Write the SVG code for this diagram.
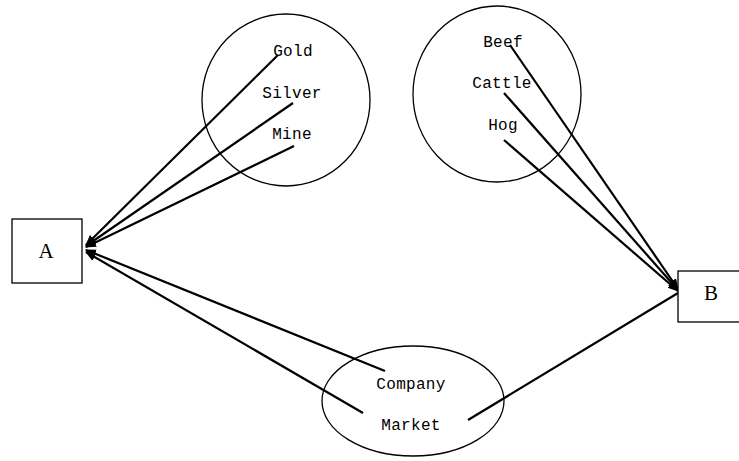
<svg xmlns="http://www.w3.org/2000/svg" width="739" height="461" viewBox="0 0 739 461">
<style>
.sh{fill:none;stroke:#000;stroke-width:1.3}
.box{fill:#fff;stroke:#000;stroke-width:1.3}
.ln{stroke:#000;stroke-width:2.2;fill:none}
.lb{font-family:"Liberation Mono",monospace;font-size:16px;letter-spacing:0.3px;text-anchor:middle;fill:#000}
.big{font-family:"Liberation Serif",serif;font-size:21px;text-anchor:middle;fill:#000}
</style>
<defs>
<marker id="ah" viewBox="0 0 10 10" refX="9" refY="5" markerWidth="11" markerHeight="11" markerUnits="userSpaceOnUse" orient="auto">
<path d="M0,1 L10,5 L0,9 z" fill="#000"/>
</marker>
</defs>
<rect width="739" height="461" fill="#fff"/>
<g id="metals">
<ellipse class="sh" cx="286" cy="100" rx="84" ry="86"/>
<text class="lb" x="293" y="56">Gold</text>
<text class="lb" x="292" y="98">Silver</text>
<text class="lb" x="292" y="139">Mine</text>
</g>
<g id="livestock">
<ellipse class="sh" cx="497" cy="94" rx="84" ry="88"/>
<text class="lb" x="503" y="47">Beef</text>
<text class="lb" x="502" y="88">Cattle</text>
<text class="lb" x="503" y="130">Hog</text>
</g>
<g id="business">
<ellipse class="sh" cx="413" cy="401" rx="91" ry="55"/>
<text class="lb" x="411" y="389">Company</text>
<text class="lb" x="411" y="430">Market</text>
</g>
<g id="connectors">
<line class="ln" x1="278" y1="55" x2="86" y2="245" marker-end="url(#ah)"/>
<line class="ln" x1="293" y1="103" x2="86" y2="246" marker-end="url(#ah)"/>
<line class="ln" x1="294" y1="146" x2="86" y2="247" marker-end="url(#ah)"/>
<line class="ln" x1="385" y1="371" x2="86" y2="250" marker-end="url(#ah)"/>
<line class="ln" x1="363" y1="413" x2="86" y2="252" marker-end="url(#ah)"/>
<line class="ln" x1="510" y1="45" x2="678" y2="289" marker-end="url(#ah)"/>
<line class="ln" x1="504" y1="93" x2="678" y2="290" marker-end="url(#ah)"/>
<line class="ln" x1="504" y1="140" x2="678" y2="291" marker-end="url(#ah)"/>
<line class="ln" x1="468" y1="420" x2="678" y2="293"/>
</g>
<g id="A">
<rect class="box" x="12" y="219" width="70" height="64"/>
<text class="big" x="46" y="258">A</text>
</g>
<g id="B">
<rect class="box" x="678" y="271" width="62" height="51"/>
<text class="big" x="711" y="300">B</text>
</g>
</svg>
